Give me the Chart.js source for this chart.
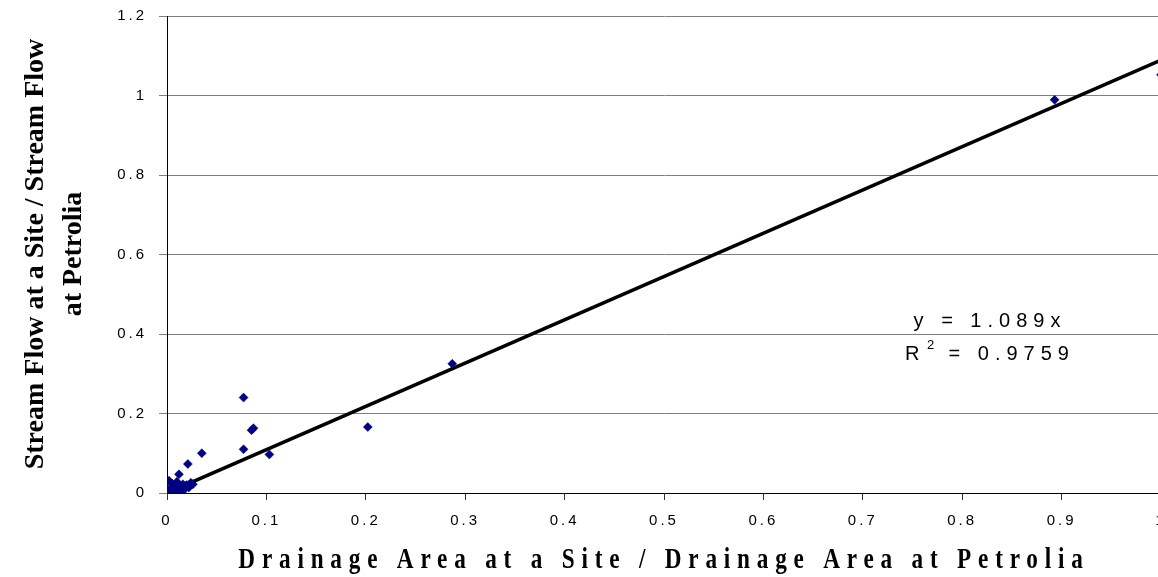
<!DOCTYPE html>
<html>
<head>
<meta charset="utf-8">
<script src="https://cdn.jsdelivr.net/npm/chart.js@4"></script>
<style>
  html, body { margin: 0; padding: 0; background: #fff; overflow: hidden; }
  canvas { display: block; }
</style>
</head>
<body>
<canvas id="c" width="1166" height="577"></canvas>
<script>
// Ratio of drainage area at each site to drainage area at Petrolia
const areaRatio = [
  1.0, 0.893, 0.287, 0.202, 0.103, 0.077, 0.085, 0.087, 0.077, 0.035,
  0.021, 0.012, 0.002,
  0.001, 0.003, 0.004, 0.006, 0.008, 0.010, 0.012, 0.014, 0.016, 0.018,
  0.020, 0.022, 0.024, 0.026, 0.005, 0.010, 0.015, 0.008, 0.019
];
// Ratio of stream flow at each site to stream flow at Petrolia
const flowRatio = [
  1.052, 0.989, 0.325, 0.166, 0.097, 0.240, 0.158, 0.163, 0.110, 0.100,
  0.073, 0.047, 0.031,
  0.002, 0.008, 0.014, 0.001, 0.020, 0.008, 0.004, 0.016, 0.022, 0.010,
  0.020, 0.014, 0.026, 0.022, 0.024, 0.028, 0.000, 0.006, 0.018
];

// Linear trend through the origin and its fit statistic
const trendSlope = 1.089;
const trendR2 = '0.9759';
const trendX = [0, 1];

const xTickLabels = ['0', '0.1', '0.2', '0.3', '0.4', '0.5', '0.6', '0.7', '0.8', '0.9', '1'];
const yTickLabels = ['0', '0.2', '0.4', '0.6', '0.8', '1', '1.2'];

const xTitle = 'Drainage Area at a Site / Drainage Area at Petrolia';
const yTitleLines = ['Stream Flow at a Site / Stream Flow', 'at Petrolia'];

const points = areaRatio.map((x, i) => ({ x: x, y: flowRatio[i] }));
const trendPoints = trendX.map(x => ({ x: x, y: trendSlope * x }));

const SANS = '"Liberation Sans", Arial, sans-serif';
const SERIF = '"Liberation Serif", "Times New Roman", serif';

const decorations = {
  id: 'decorations',
  beforeDraw(chart) {
    const ctx = chart.ctx;
    ctx.save();
    ctx.fillStyle = '#fff';
    ctx.fillRect(0, 0, chart.width, chart.height);
    ctx.restore();
    ctx.letterSpacing = '3px';
  },
  afterDraw(chart) {
    const ctx = chart.ctx;

    // y-axis title, two rotated lines
    ctx.save();
    ctx.fillStyle = '#000';
    ctx.font = 'bold 28px ' + SERIF;
    ctx.letterSpacing = '0px';
    ctx.textAlign = 'center';
    ctx.textBaseline = 'middle';
    const yMid = 254;
    [36, 74].forEach((cx, i) => {
      ctx.save();
      ctx.translate(cx, yMid);
      ctx.rotate(-Math.PI / 2);
      ctx.fillText(yTitleLines[i], 0, 0);
      ctx.restore();
    });
    ctx.restore();

    // x-axis title, condensed and letter-spaced
    ctx.save();
    ctx.fillStyle = '#000';
    ctx.font = 'bold 29px ' + SERIF;
    ctx.letterSpacing = '8.5px';
    ctx.textAlign = 'center';
    ctx.textBaseline = 'alphabetic';
    ctx.translate(664, 568);
    ctx.scale(0.8, 1);
    ctx.fillText(xTitle, 0, 0);
    ctx.restore();

    // trend equation
    ctx.save();
    ctx.fillStyle = '#000';
    ctx.font = '20px ' + SANS;
    ctx.letterSpacing = '6px';
    ctx.textAlign = 'center';
    ctx.textBaseline = 'alphabetic';
    ctx.fillText('y = ' + trendSlope.toFixed(3) + 'x', 990, 327);
    ctx.textAlign = 'left';
    ctx.fillText('R', 905, 360);
    ctx.font = '13px ' + SANS;
    ctx.letterSpacing = '3px';
    ctx.fillText('2', 927, 349);
    ctx.font = '20px ' + SANS;
    ctx.letterSpacing = '6px';
    ctx.fillText(' = ' + trendR2, 937, 360);
    ctx.restore();
  }
};

new Chart(document.getElementById('c'), {
  type: 'scatter',
  data: {
    datasets: [
      {
        type: 'line',
        data: trendPoints,
        borderColor: '#000',
        borderWidth: 3.5,
        pointRadius: 0,
        fill: false,
        order: 2
      },
      {
        data: points,
        pointStyle: 'rectRot',
        pointRadius: 4.5,
        pointBackgroundColor: '#000080',
        pointBorderColor: '#000080',
        pointBorderWidth: 0.5,
        order: 1
      }
    ]
  },
  options: {
    responsive: false,
    animation: false,
    devicePixelRatio: 1,
    layout: { padding: { top: 16, right: 0, bottom: 0, left: 0 } },
    plugins: {
      legend: { display: false },
      tooltip: { enabled: false },
      title: { display: false }
    },
    scales: {
      x: {
        type: 'linear',
        min: 0,
        max: 1,
        ticks: {
          stepSize: 0.1,
          color: '#000',
          font: { family: SANS, size: 15 },
          padding: 12,
          maxRotation: 0,
          autoSkip: false,
          callback: (v, i) => xTickLabels[i]
        },
        grid: {
          drawOnChartArea: false,
          color: '#333',
          tickLength: 7
        },
        border: { display: true, color: '#000', width: 1 },
        afterFit(scale) {
          scale.height = 84;
          scale.paddingLeft = 0;
          scale.paddingRight = 0;
        }
      },
      y: {
        type: 'linear',
        min: 0,
        max: 1.2,
        ticks: {
          stepSize: 0.2,
          color: '#000',
          font: { family: SANS, size: 15 },
          padding: 12,
          autoSkip: false,
          callback: (v, i) => yTickLabels[i]
        },
        grid: {
          color: '#808080',
          tickColor: '#808080',
          tickLength: 8,
          lineWidth: 1
        },
        border: { display: true, color: '#000', width: 1 },
        afterFit(scale) {
          scale.width = 167;
          scale.paddingTop = 0;
          scale.paddingBottom = 0;
        }
      }
    }
  },
  plugins: [decorations]
});
</script>
</body>
</html>
